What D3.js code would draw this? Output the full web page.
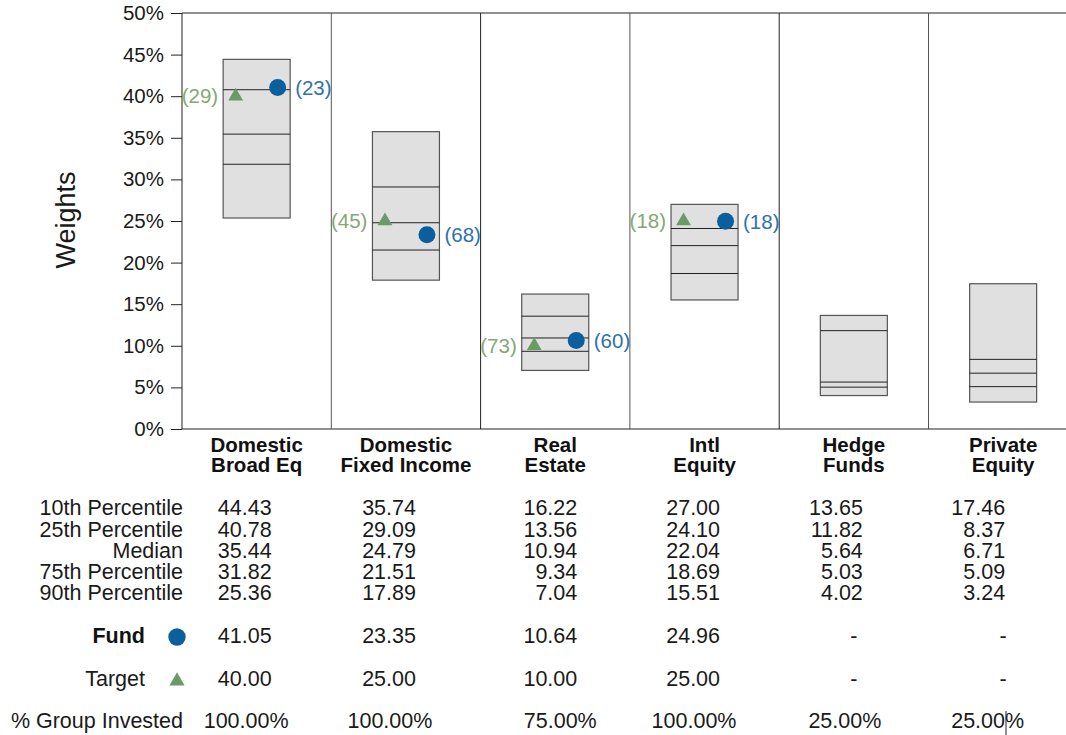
<!DOCTYPE html>
<html><head><meta charset="utf-8">
<script src="https://cdn.jsdelivr.net/npm/d3@7"></script>
<style>body{margin:0;background:#fff}svg{display:block;font-family:"Liberation Sans",Arial,sans-serif}</style>
</head><body>
<svg id="c" width="1066" height="735"></svg>
<script>
const categories = [["Domestic","Broad Eq"],["Domestic","Fixed Income"],["Real","Estate"],["Intl","Equity"],["Hedge","Funds"],["Private","Equity"]];
const p10 = [44.43,35.74,16.22,27.00,13.65,17.46];
const p25 = [40.78,29.09,13.56,24.10,11.82,8.37];
const med = [35.44,24.79,10.94,22.04,5.64,6.71];
const p75 = [31.82,21.51,9.34,18.69,5.03,5.09];
const p90 = [25.36,17.89,7.04,15.51,4.02,3.24];
const fund = [41.05,23.35,10.64,24.96,null,null];
const fundRank = [23,68,60,18,null,null];
const target = [40.00,25.00,10.00,25.00,null,null];
const targetRank = [29,45,73,18,null,null];
const groupInvested = [100,100,75,100,25,25];
const yTicks = [0,5,10,15,20,25,30,35,40,45,50];
const rowLabels = ["10th Percentile","25th Percentile","Median","75th Percentile","90th Percentile"];

(function(){
const svg = d3.select("#c");
const left = 182, colW = 149.3, plotTop = 13, plotBottom = 429;
const x = d3.scaleBand().domain(d3.range(6)).range([left, left + colW*6]).paddingInner(0).paddingOuter(0);
const y = d3.scaleLinear().domain([0,50]).range([plotBottom, plotTop]);
const blue = "#0b5f9c", blueTxt = "#2f72aa", green = "#6a9a66", greenTxt = "#86a878";
const fs = 20.5, tfs = 21.5, txt = "#1a1a1a";

const yAxis = d3.axisLeft(y).tickValues(yTicks).tickFormat(d => d + "%").tickSize(11).tickPadding(7);
const ga = svg.append("g").attr("transform", `translate(${left},0)`).call(yAxis);
ga.select(".domain").remove();
ga.selectAll(".tick line").attr("stroke","#222");
ga.selectAll(".tick text").attr("font-size",fs).attr("fill",txt).attr("font-family","Liberation Sans, Arial, sans-serif");
svg.append("line").attr("x1",left).attr("x2",left).attr("y1",plotTop).attr("y2",plotBottom).attr("stroke","#222");
svg.append("line").attr("x1",left).attr("x2",1066).attr("y1",plotTop).attr("y2",plotTop).attr("stroke","#222");
svg.append("line").attr("x1",left).attr("x2",1066).attr("y1",plotBottom).attr("y2",plotBottom).attr("stroke","#222");
for (let i=1;i<6;i++) svg.append("line").attr("x1",x(i)).attr("x2",x(i)).attr("y1",plotTop).attr("y2",plotBottom).attr("stroke", i%2 ? "#555" : "#222");

svg.append("text").attr("transform",`translate(75,220) rotate(-90)`).attr("text-anchor","middle").attr("font-size",27).attr("fill",txt).text("Weights");

const boxW = 67;
const cx = i => x(i) + x.bandwidth()/2;
const tri = d3.symbol().type(d3.symbolTriangle).size(95)();
categories.forEach((c,i) => {
  const g = svg.append("g");
  g.append("rect").attr("x",cx(i)-boxW/2).attr("y",y(p10[i])).attr("width",boxW).attr("height",y(p90[i])-y(p10[i]))
    .attr("fill","#e0e0e0").attr("stroke","#555").attr("stroke-width",1.2);
  [p25[i],med[i],p75[i]].forEach(v => g.append("line").attr("x1",cx(i)-boxW/2).attr("x2",cx(i)+boxW/2).attr("y1",y(v)).attr("y2",y(v)).attr("stroke","#222").attr("stroke-width",1));
  if (target[i] != null) {
    const tx = cx(i)-21, ty = y(target[i]);
    g.append("path").attr("d", tri).attr("transform",`translate(${tx},${ty})`).attr("fill",green);
    g.append("text").attr("x",cx(i)-boxW/2-5).attr("y",ty).attr("dy","0.35em").attr("text-anchor","end").attr("font-size",fs).attr("fill",greenTxt).text(`(${targetRank[i]})`);
  }
  if (fund[i] != null) {
    const fx = cx(i)+21, fy = y(fund[i]);
    g.append("circle").attr("cx",fx).attr("cy",fy).attr("r",8.5).attr("fill",blue);
    g.append("text").attr("x",cx(i)+boxW/2+5).attr("y",fy).attr("dy","0.35em").attr("text-anchor","start").attr("font-size",fs).attr("fill",blueTxt).text(`(${fundRank[i]})`);
  }
  c.forEach((t,k) => svg.append("text").attr("x",cx(i)).attr("y",451.5 + k*20.5).attr("text-anchor","middle").attr("font-size",20.5).attr("font-weight","bold").attr("fill","#111").text(t));
});

const numOff = [15,10,22,15.5,9,2];
const rowY = [515,536.5,557.5,579,600];
const rows = [p10,p25,med,p75,p90];
rowLabels.forEach((t,r) => {
  svg.append("text").attr("x",183).attr("y",rowY[r]).attr("text-anchor","end").attr("font-size",tfs).attr("fill",txt).text(t);
  rows[r].forEach((v,i) => svg.append("text").attr("x",cx(i)+numOff[i]).attr("y",rowY[r]).attr("text-anchor","end").attr("font-size",tfs).attr("fill",txt).text(v.toFixed(2)));
});
svg.append("text").attr("x",145).attr("y",643).attr("text-anchor","end").attr("font-size",tfs).attr("font-weight","bold").attr("fill","#111").text("Fund");
svg.append("circle").attr("cx",177).attr("cy",637).attr("r",8.7).attr("fill",blue);
svg.append("text").attr("x",145).attr("y",685.5).attr("text-anchor","end").attr("font-size",tfs).attr("fill",txt).text("Target");
svg.append("path").attr("d", d3.symbol().type(d3.symbolTriangle).size(100)()).attr("transform","translate(177,681)").attr("fill",green);
fund.forEach((v,i) => svg.append("text").attr("x", v==null ? cx(i) : cx(i)+numOff[i]).attr("y",643).attr("text-anchor", v==null ? "middle" : "end").attr("font-size",tfs).attr("fill",txt).text(v==null ? "-" : v.toFixed(2)));
target.forEach((v,i) => svg.append("text").attr("x", v==null ? cx(i) : cx(i)+numOff[i]).attr("y",685.5).attr("text-anchor", v==null ? "middle" : "end").attr("font-size",tfs).attr("fill",txt).text(v==null ? "-" : v.toFixed(2)));
svg.append("text").attr("x",183).attr("y",728).attr("text-anchor","end").attr("font-size",tfs).attr("fill",txt).text("% Group Invested");
const gOff = [-10.5,-16,5,-10.5,-9,-15.5];
groupInvested.forEach((v,i) => svg.append("text").attr("x",cx(i)+gOff[i]).attr("y",728).attr("text-anchor","middle").attr("font-size",tfs).attr("fill",txt).text(v.toFixed(2)+"%"));
svg.append("line").attr("x1",1006).attr("x2",1006).attr("y1",711).attr("y2",735).attr("stroke","#222").attr("stroke-width",1);
})();
</script>
</body></html>
